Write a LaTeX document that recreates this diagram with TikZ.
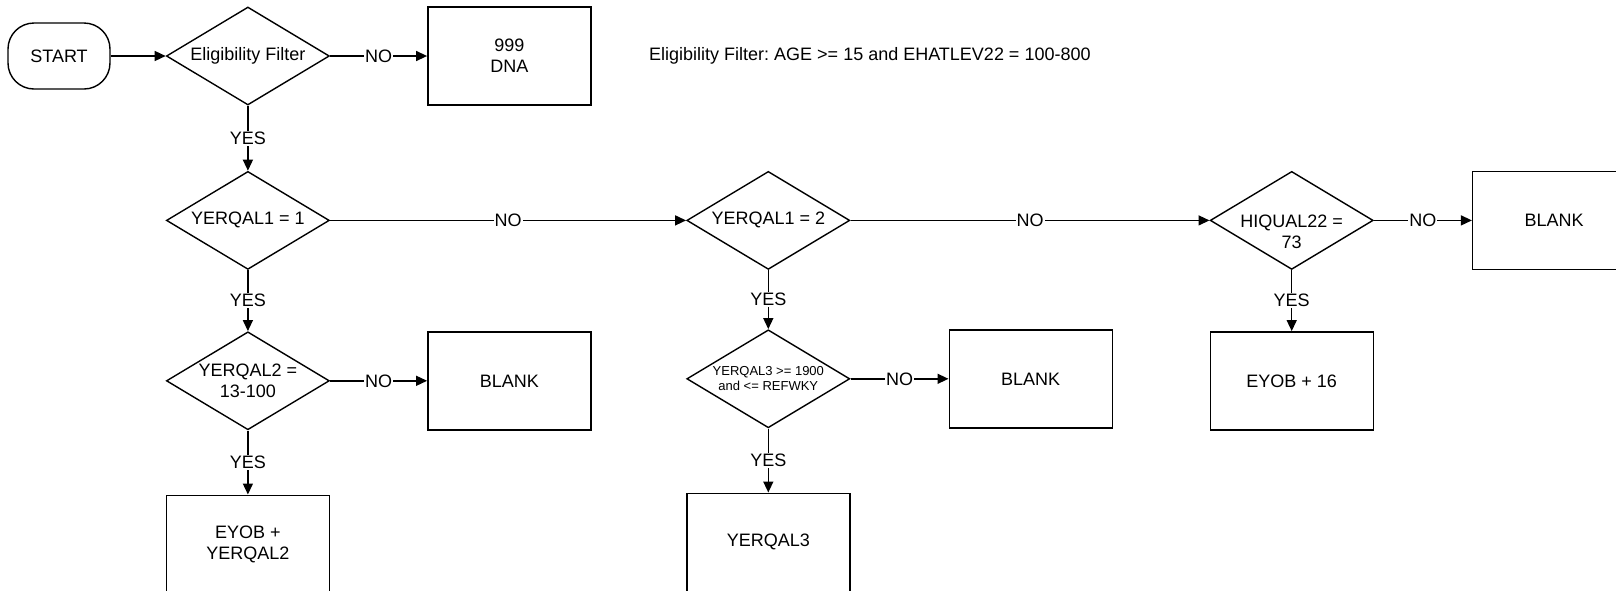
\documentclass[tikz,border=0pt]{standalone}
\usepackage{fontspec}
\setmainfont{Liberation Sans}
\frenchspacing
\usetikzlibrary{shapes.geometric,arrows.meta,positioning}
\tikzset{>={Triangle[length=11pt,width=10pt]}}
\tikzset{box/.style={rectangle,draw,minimum width=163pt,minimum height=98pt,inner sep=0pt,align=center},
            dec/.style={diamond,draw,minimum width=163pt,minimum height=98pt,aspect=1.66,inner sep=0pt,align=center},
            term/.style={rectangle,rounded corners=26pt,draw,minimum width=102pt,minimum height=66pt},
            yn/.style={fill=white,inner sep=1pt},
            }

\begin{document}
\begin{tikzpicture}[x=1pt,y=-1pt,line width=1.4pt,font=\fontsize{18}{21}\selectfont]
    \useasboundingbox (0,0) rectangle (1616,590);

    \node[term] (start) at (59,56) {START};
    \node[dec] (elig) [right = 55pt of start] {Eligibility Filter};
    \node[box] (dna) [right = 97pt of elig] {999\\DNA};
    \node[inner sep=0pt] (note) [right = 57pt of dna] {Eligibility Filter: AGE >= 15 and EHATLEV22 = 100-800};

    \node[dec] (q1) [below = 65pt of elig] {YERQAL1 = 1};
    \node[dec] (q2) [right = 356pt of q1] {YERQAL1 = 2};
    \node[dec] (hq) [right = 359pt of q2] {};
    \node[align=center] (hqtext) at ([yshift=-11pt]hq.center) {HIQUAL22 =\\73};
    \node[box] (blankr) [right = 98pt of hq] {BLANK};

    \node[dec] (y2) [below = 61pt of q1] {YERQAL2 =\\13-100};
    \node[box] (blanka) [right = 97pt of y2] {BLANK};
    \node[box] (eyoba) [below = 64pt of y2] {EYOB +\\YERQAL2};

    \node[dec,font=\fontsize{13}{15}\selectfont] (y3) [below = 59pt of q2] {YERQAL3 >= 1900\\and <= REFWKY};
    \node[box] (blankb) [right = 98pt of y3] {BLANK};
    \node[box] (yq3) [below = 64pt of y3] {YERQAL3};

    \node[box] (eyob16) [below = 61pt of hq] {EYOB + 16};

    \path[draw,->]
    (start) edge (elig)
    (elig) edge node[yn] {NO} (dna)
    (elig) edge node[yn] {YES} (q1)
    (q1) edge node[yn] {NO} (q2)
    (q2) edge node[yn] {NO} (hq)
    (hq) edge node[yn] {NO} (blankr)
    (q1) edge node[yn] {YES} (y2)
    (y2) edge node[yn] {NO} (blanka)
    (y2) edge node[yn] {YES} (eyoba)
    (q2) edge node[yn] {YES} (y3)
    (y3) edge node[yn] {NO} (blankb)
    (y3) edge node[yn] {YES} (yq3)
    (hq) edge node[yn] {YES} (eyob16);

\end{tikzpicture}
\end{document}
